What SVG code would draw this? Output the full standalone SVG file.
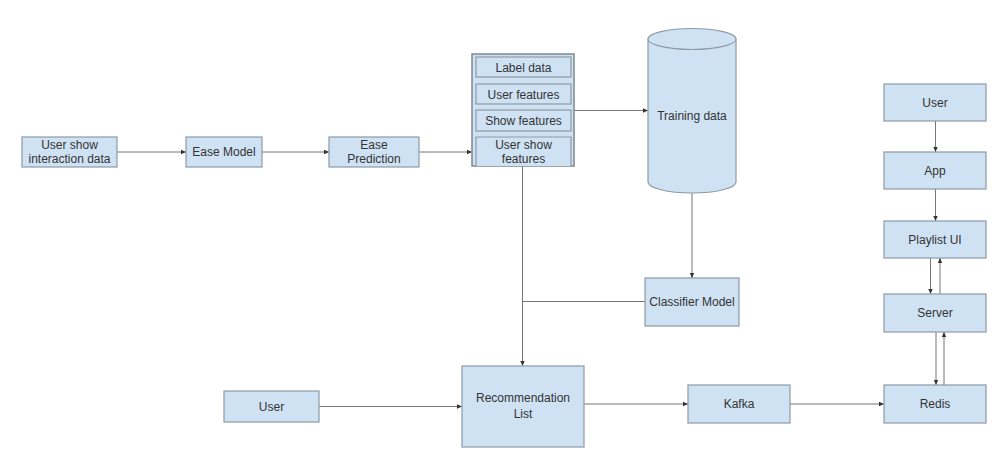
<svg xmlns="http://www.w3.org/2000/svg" width="1001" height="452" viewBox="0 0 1001 452">
<style>
.n{fill:#cfe2f3;stroke:#8e9aa6;stroke-width:1.2}
.t{font-family:"Liberation Sans",Arial,sans-serif;font-size:12px;fill:#333;text-anchor:middle;dominant-baseline:central}
.c{fill:none;stroke:#777;stroke-width:1}
</style>
<defs>
<marker id="a" markerWidth="6" markerHeight="6" refX="5" refY="3" orient="auto" markerUnits="userSpaceOnUse">
<path d="M0,0.8 L5,3 L0,5.2 z" fill="#333"/>
</marker>
</defs>
<rect width="1001" height="452" fill="#fff"/>
<g id="connectors">
<line class="c" x1="117" y1="152" x2="186" y2="152" marker-end="url(#a)"/>
<line class="c" x1="262" y1="152" x2="329" y2="152" marker-end="url(#a)"/>
<line class="c" x1="419" y1="152" x2="472" y2="152" marker-end="url(#a)"/>
<line class="c" x1="574" y1="110.5" x2="648" y2="110.5" marker-end="url(#a)"/>
<line class="c" x1="692" y1="193" x2="692" y2="278" marker-end="url(#a)"/>
<line class="c" x1="645" y1="301.5" x2="522.5" y2="301.5"/>
<line class="c" x1="522.5" y1="166" x2="522.5" y2="366" marker-end="url(#a)"/>
<line class="c" x1="319" y1="406.5" x2="462" y2="406.5" marker-end="url(#a)"/>
<line class="c" x1="584" y1="404" x2="688" y2="404" marker-end="url(#a)"/>
<line class="c" x1="790" y1="404" x2="884" y2="404" marker-end="url(#a)"/>
<line class="c" x1="935.5" y1="121" x2="935.5" y2="152" marker-end="url(#a)"/>
<line class="c" x1="935.5" y1="189" x2="935.5" y2="221" marker-end="url(#a)"/>
<line class="c" x1="930.5" y1="258" x2="930.5" y2="294" marker-end="url(#a)"/>
<line class="c" x1="940" y1="294" x2="940" y2="258" marker-end="url(#a)"/>
<line class="c" x1="936" y1="332" x2="936" y2="385" marker-end="url(#a)"/>
<line class="c" x1="944" y1="385" x2="944" y2="332" marker-end="url(#a)"/>
</g>
<g id="user-show-interaction-data">
<rect class="n" x="22" y="137" width="95" height="30"/>
<text class="t" x="69.5" y="145">User show</text>
<text class="t" x="69.5" y="159">interaction data</text>
</g>
<g id="ease-model">
<rect class="n" x="186" y="137" width="76" height="30"/>
<text class="t" x="224" y="152">Ease Model</text>
</g>
<g id="ease-prediction">
<rect class="n" x="329" y="137" width="90" height="30"/>
<text class="t" x="374" y="145">Ease</text>
<text class="t" x="374" y="159">Prediction</text>
</g>
<g id="feature-stack">
<rect x="472" y="54" width="102" height="112" fill="#cfe2f3" stroke="#7d8893" stroke-width="1.5"/>
<rect class="n" x="476" y="57" width="95" height="20"/>
<text class="t" x="523.5" y="67.5">Label data</text>
<rect class="n" x="476" y="84" width="95" height="20"/>
<text class="t" x="523.5" y="94.5">User features</text>
<rect class="n" x="476" y="110" width="95" height="21"/>
<text class="t" x="523.5" y="121">Show features</text>
<path class="n" d="M476,166 V137 H571 V166"/>
<text class="t" x="523.5" y="145">User show</text>
<text class="t" x="523.5" y="159">features</text>
</g>
<g id="training-data">
<path class="n" d="M648,39 V182 A44,11 0 0 0 736,182 V39"/>
<ellipse class="n" cx="692" cy="39" rx="44" ry="10.5"/>
<text class="t" x="692" y="116">Training data</text>
</g>
<g id="classifier-model">
<rect class="n" x="645" y="278" width="94" height="48"/>
<text class="t" x="692" y="302">Classifier Model</text>
</g>
<g id="user-left">
<rect class="n" x="224" y="391" width="95" height="31"/>
<text class="t" x="271.5" y="406.5">User</text>
</g>
<g id="recommendation-list">
<rect class="n" x="462" y="366" width="122" height="81"/>
<text class="t" x="523" y="398">Recommendation</text>
<text class="t" x="523" y="414">List</text>
</g>
<g id="kafka">
<rect class="n" x="688" y="385" width="102" height="38"/>
<text class="t" x="739" y="404">Kafka</text>
</g>
<g id="redis">
<rect class="n" x="884" y="385" width="102" height="38"/>
<text class="t" x="935" y="404">Redis</text>
</g>
<g id="user-right">
<rect class="n" x="884" y="84" width="102" height="37"/>
<text class="t" x="935" y="102.5">User</text>
</g>
<g id="app">
<rect class="n" x="884" y="152" width="102" height="37"/>
<text class="t" x="935" y="170.5">App</text>
</g>
<g id="playlist-ui">
<rect class="n" x="884" y="221" width="102" height="37"/>
<text class="t" x="935" y="239.5">Playlist UI</text>
</g>
<g id="server">
<rect class="n" x="884" y="294" width="102" height="38"/>
<text class="t" x="935" y="313">Server</text>
</g>
</svg>
